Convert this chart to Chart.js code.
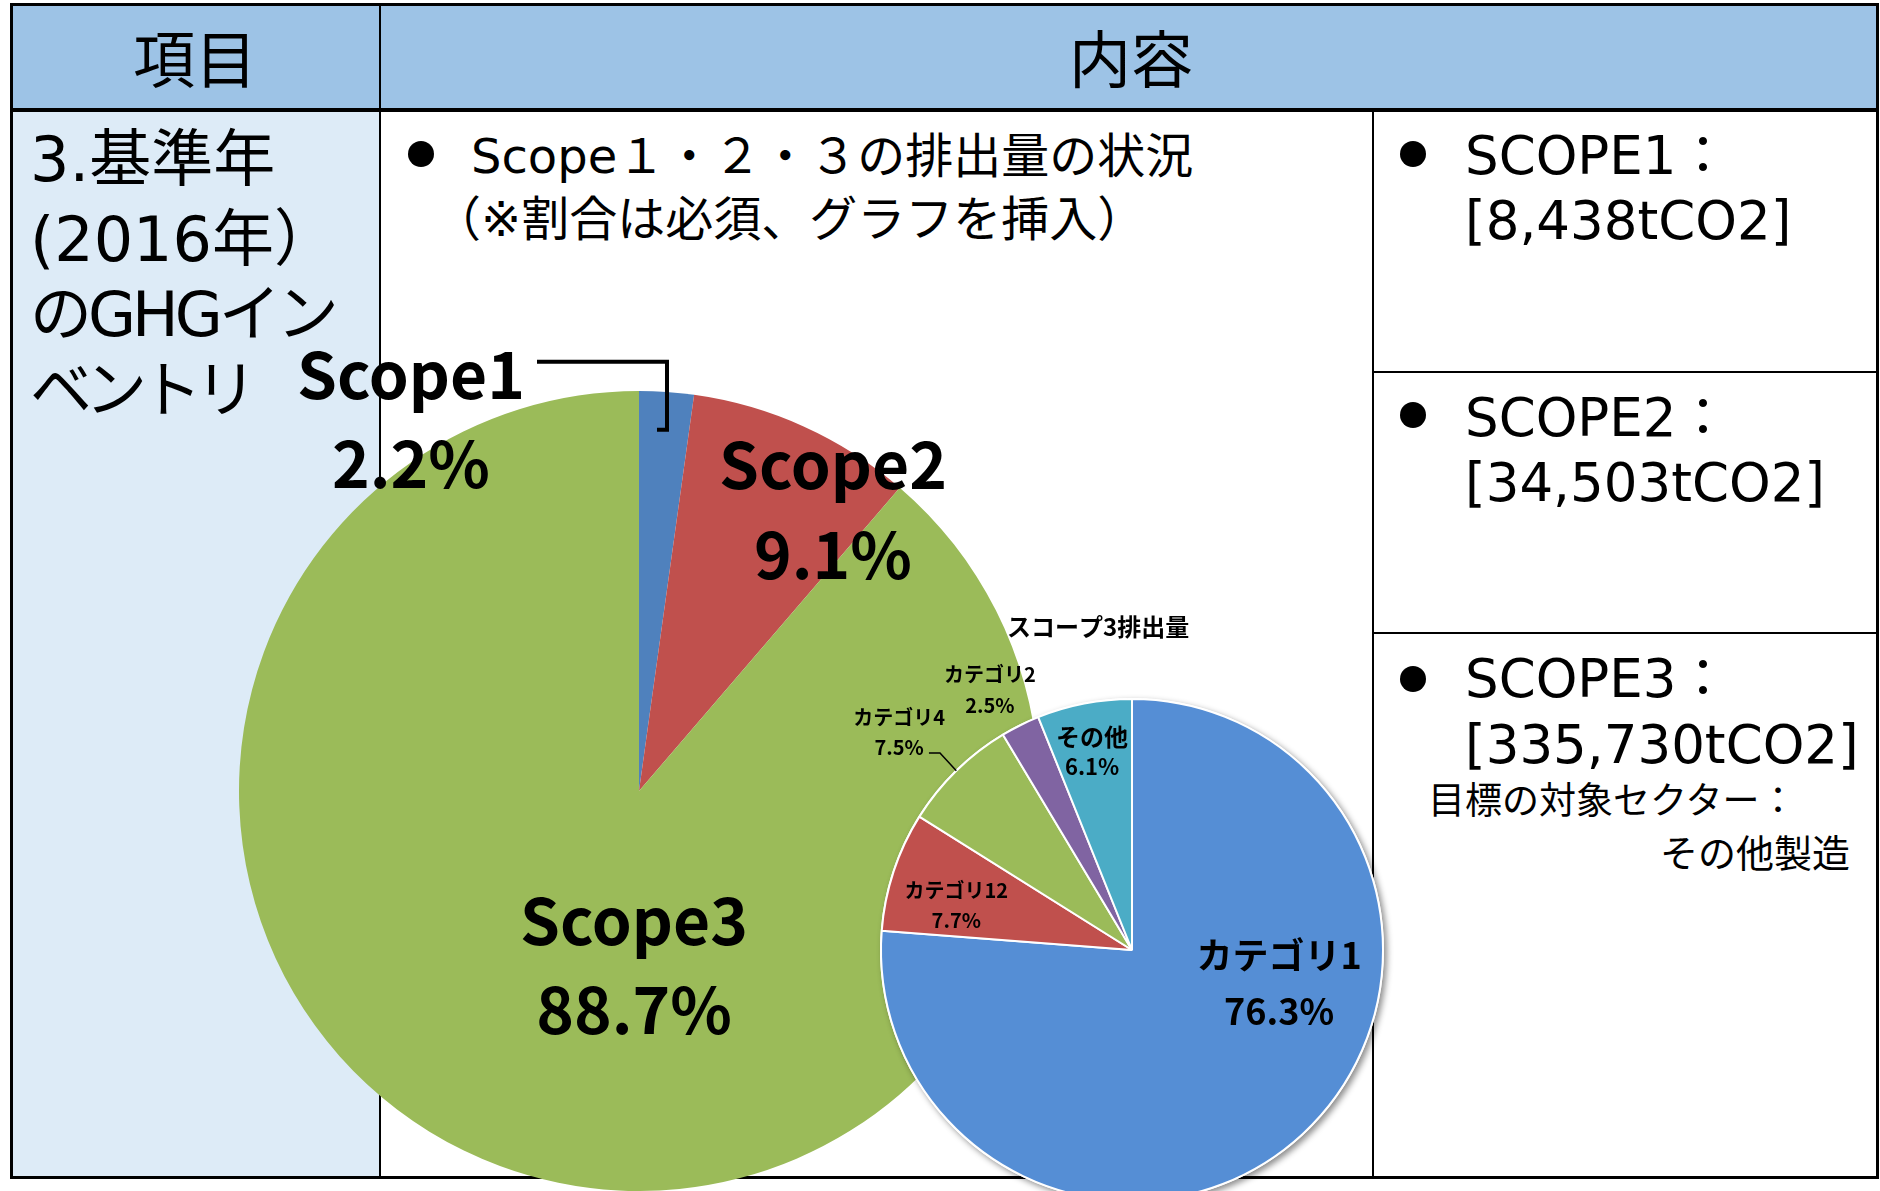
<!DOCTYPE html>
<html lang="ja">
<head>
<meta charset="utf-8">
<script src="https://cdn.jsdelivr.net/npm/chart.js@4.4.1/dist/chart.umd.min.js"></script>
<style>
  html, body { margin: 0; padding: 0; width: 1880px; height: 1191px; overflow: hidden; background: #fff; }
  body { position: relative; font-family: "DejaVu Sans", "Noto Sans CJK JP", sans-serif; color: #000; }
  .box { position: absolute; }
  .ln { position: absolute; background: #000; }
  .t { position: absolute; white-space: nowrap; line-height: 1; }
  .c { transform: translate(-50%, -50%); }
  .l { transform: translateY(-50%); }
  .r { transform: translate(-100%, -50%); }
  .jp { font-family: "Noto Sans CJK JP", sans-serif; }
  .dot { position: absolute; width: 26px; height: 26px; border-radius: 50%; background: #000; transform: translate(-50%, -50%); }
  canvas { position: absolute; left: 0; top: 0; }
</style>
</head>
<body>
<!-- table backgrounds -->
<div class="box" style="left:11px;top:4px;width:1867px;height:106px;background:#9DC3E6"></div>
<div class="box" style="left:11px;top:110px;width:369px;height:1068px;background:#DDEBF7"></div>

<!-- table lines -->
<div class="ln" style="left:10px;top:3px;width:1869px;height:3px"></div>
<div class="ln" style="left:10px;top:1176px;width:1869px;height:3px"></div>
<div class="ln" style="left:10px;top:3px;width:3px;height:1176px"></div>
<div class="ln" style="left:1876px;top:3px;width:3px;height:1176px"></div>
<div class="ln" style="left:10px;top:108px;width:1869px;height:4px"></div>
<div class="ln" style="left:379px;top:3px;width:2px;height:1176px"></div>
<div class="ln" style="left:1372px;top:110px;width:2px;height:1068px"></div>
<div class="ln" style="left:1372px;top:371px;width:506px;height:2px"></div>
<div class="ln" style="left:1372px;top:632px;width:506px;height:2px"></div>

<!-- header -->
<div class="t c jp" style="left:195px;top:56px;font-size:62px">項目</div>
<div class="t c jp" style="left:1131px;top:56px;font-size:62px">内容</div>

<!-- left column -->
<div class="t l" style="left:30px;top:160px;font-size:62px">3.基準年</div>
<div class="t l" style="left:30px;top:240px;font-size:62px">(2016年）</div>
<div class="t l" style="left:30px;top:315px;font-size:62px;letter-spacing:-4px">のGHGイン</div>
<div class="t l" style="left:30px;top:391px;font-size:62px;letter-spacing:-7px">ベントリ</div>

<!-- middle column -->
<div class="dot" style="left:421px;top:154px"></div>
<div class="t l" style="left:471px;top:156px;font-size:48px">Scope１・２・３の排出量の状況</div>
<div class="t l" style="left:433px;top:219px;font-size:48px">（※割合は必須、グラフを挿入）</div>

<!-- right column -->
<div class="dot" style="left:1413px;top:154px"></div>
<div class="t l" style="left:1465px;top:155px;font-size:53px">SCOPE1：</div>
<div class="t l" style="left:1465px;top:220px;font-size:53px" id="s1"></div>
<div class="dot" style="left:1413px;top:415px"></div>
<div class="t l" style="left:1465px;top:417px;font-size:53px">SCOPE2：</div>
<div class="t l" style="left:1465px;top:482px;font-size:53px" id="s2"></div>
<div class="dot" style="left:1413px;top:679px"></div>
<div class="t l" style="left:1465px;top:678px;font-size:53px">SCOPE3：</div>
<div class="t l" style="left:1465px;top:744px;font-size:53px" id="s3"></div>
<div class="t l jp" style="left:1428px;top:798px;font-size:37px">目標の対象セクター：</div>
<div class="t r jp" style="left:1850px;top:851px;font-size:38px">その他製造</div>

<canvas id="bigPie" width="1880" height="1191"></canvas>
<canvas id="catPie" width="1880" height="1260"></canvas>

<script>
// data
const scopeNames = ["Scope1", "Scope2", "Scope3"];
const scopeShares = [2.2, 9.1, 88.7];
const scopeTonnes = ["8,438", "34,503", "335,730"];
const scopeColors = ["#4F81BD", "#C0504D", "#9BBB59"];

const catTitle = "スコープ3排出量";
const catNames = ["カテゴリ1", "カテゴリ12", "カテゴリ4", "カテゴリ2", "その他"];
const catShares = [76.3, 7.7, 7.5, 2.5, 6.1];
const catColors = ["#558ED5", "#C0504D", "#9BBB59", "#8064A2", "#4BACC6"];

// tonnes in the right column
document.getElementById("s1").textContent = "[" + scopeTonnes[0] + "tCO2]";
document.getElementById("s2").textContent = "[" + scopeTonnes[1] + "tCO2]";
document.getElementById("s3").textContent = "[" + scopeTonnes[2] + "tCO2]";

const FONT = "'Noto Sans CJK JP', sans-serif";

// label layout, in units of the pie radius from its centre
const scopeLabelPos = [
  { x: -0.57, y1: -1.04, y2: -0.8175, size: 64 },
  { x: 0.485, y1: -0.815, y2: -0.59, size: 64 },
  { x: -0.0125, y1: 0.325, y2: 0.5475, size: 64 }
];
const catLabelPos = [
  { x: 0.586, y1: 0.02, y2: 0.245, size: 36, size2: 36 },
  { x: -0.70, y1: -0.239, y2: -0.1195, size: 20, size2: 20 },
  { x: -0.928, y1: -0.928, y2: -0.809, size: 20, size2: 20 },
  { x: -0.566, y1: -1.096, y2: -0.976, size: 20, size2: 20 },
  { x: -0.159, y1: -0.849, y2: -0.729, size: 24, size2: 22 }
];

function midPoint(arc, k) {
  const a = (arc.startAngle + arc.endAngle) / 2;
  return { x: arc.x + Math.cos(a) * arc.outerRadius * k, y: arc.y + Math.sin(a) * arc.outerRadius * k };
}

function drawText(ctx, txt, x, y, size) {
  ctx.font = "bold " + size + "px " + FONT;
  ctx.fillStyle = "#000";
  ctx.textAlign = "center";
  ctx.textBaseline = "middle";
  ctx.fillText(txt, x, y);
}

const scopeLabels = {
  id: "scopeLabels",
  afterDatasetsDraw(chart) {
    const ctx = chart.ctx;
    const arcs = chart.getDatasetMeta(0).data;
    const cx = arcs[0].x, cy = arcs[0].y, r = arcs[0].outerRadius;
    ctx.save();
    arcs.forEach((arc, i) => {
      const p = scopeLabelPos[i];
      drawText(ctx, scopeNames[i], cx + p.x * r, cy + p.y1 * r, p.size);
      drawText(ctx, scopeShares[i].toFixed(1) + "%", cx + p.x * r, cy + p.y2 * r, p.size);
    });
    // leader line for Scope1
    const end = midPoint(arcs[0], 0.905);
    const vx = end.x + 3;
    ctx.strokeStyle = "#000";
    ctx.lineWidth = 4;
    ctx.lineJoin = "miter";
    ctx.beginPath();
    ctx.moveTo(cx - 0.255 * r, cy - 1.073 * r);
    ctx.lineTo(vx, cy - 1.073 * r);
    ctx.lineTo(vx, end.y);
    ctx.lineTo(vx - 10, end.y);
    ctx.stroke();
    ctx.restore();
  }
};

const catLabels = {
  id: "catLabels",
  beforeDatasetsDraw(chart) {
    const ctx = chart.ctx;
    const a = chart.getDatasetMeta(0).data[0];
    ctx.save();
    ctx.shadowColor = "rgba(0,0,0,0.45)";
    ctx.shadowBlur = 6;
    ctx.shadowOffsetX = 3;
    ctx.shadowOffsetY = 3;
    ctx.fillStyle = "#fff";
    ctx.beginPath();
    ctx.arc(a.x, a.y, a.outerRadius + 1, 0, Math.PI * 2);
    ctx.fill();
    ctx.restore();
  },
  afterDatasetsDraw(chart) {
    const ctx = chart.ctx;
    const arcs = chart.getDatasetMeta(0).data;
    const cx = arcs[0].x, cy = arcs[0].y, r = arcs[0].outerRadius;
    ctx.save();
    drawText(ctx, catTitle, cx - 0.135 * r, cy - 1.287 * r, 24);
    arcs.forEach((arc, i) => {
      const p = catLabelPos[i];
      drawText(ctx, catNames[i], cx + p.x * r, cy + p.y1 * r, p.size);
      drawText(ctx, catShares[i].toFixed(1) + "%", cx + p.x * r, cy + p.y2 * r, p.size2);
    });
    // leader line for カテゴリ4
    const end = midPoint(arcs[2], 1);
    ctx.strokeStyle = "#000";
    ctx.lineWidth = 1.5;
    ctx.beginPath();
    ctx.moveTo(cx - 0.809 * r, cy - 0.785 * r);
    ctx.lineTo(cx - 0.765 * r, cy - 0.785 * r);
    ctx.lineTo(end.x, end.y);
    ctx.stroke();
    ctx.restore();
  }
};

const common = {
  responsive: false,
  animation: false,
  events: [],
  plugins: { legend: { display: false }, tooltip: { enabled: false } }
};

new Chart(document.getElementById("bigPie"), {
  type: "pie",
  data: {
    labels: scopeNames,
    datasets: [{ data: scopeShares, backgroundColor: scopeColors, borderWidth: 0, hoverOffset: 0 }]
  },
  options: { ...common, layout: { padding: { left: 239, right: 841, top: 391, bottom: 0 } } },
  plugins: [scopeLabels]
});

new Chart(document.getElementById("catPie"), {
  type: "pie",
  data: {
    labels: catNames,
    datasets: [{ data: catShares, backgroundColor: catColors, borderColor: "#fff", borderWidth: 2, hoverOffset: 0 }]
  },
  options: { ...common, layout: { padding: { left: 880, right: 496, top: 698, bottom: 58 } } },
  plugins: [catLabels]
});
</script>
</body>
</html>
